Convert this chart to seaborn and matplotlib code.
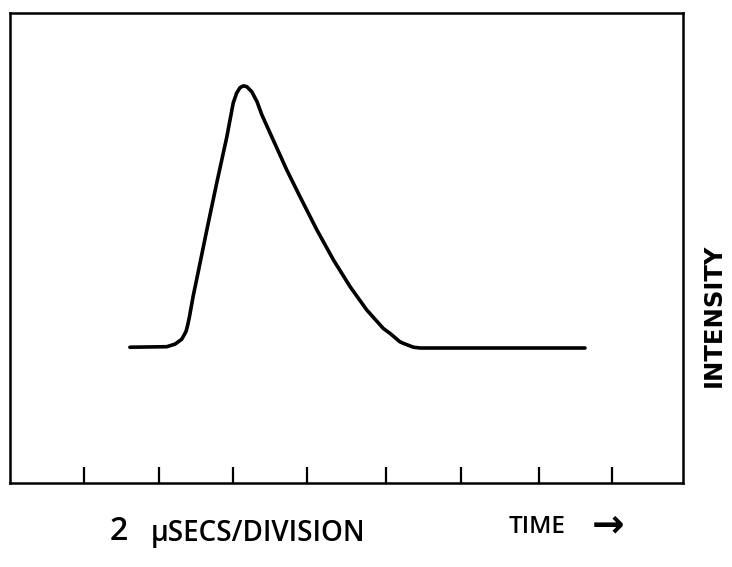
import matplotlib
matplotlib.use("Agg")
import matplotlib.pyplot as plt
import seaborn as sns
import pandas as pd

# Pulse trace: time in microseconds, intensity in arbitrary units (peak = 1)
time_us = [3.18, 4.16, 4.38, 4.55, 4.60, 4.67, 4.71, 4.76, 4.86, 4.95, 5.22,
           5.48, 5.75, 5.92, 6.01, 6.10, 6.19, 6.28, 6.41, 6.55, 6.68, 6.98,
           7.34, 7.69, 8.14, 8.58, 9.02, 9.46, 9.90, 10.08, 10.34, 10.43,
           10.70, 10.88, 11.94, 15.25]
intensity = [0.003, 0.005, 0.015, 0.033, 0.045, 0.064, 0.086, 0.12, 0.200,
             0.262, 0.452, 0.630, 0.808, 0.938, 0.976, 0.997, 1.004, 1.001,
             0.982, 0.944, 0.893, 0.797, 0.682, 0.580, 0.452, 0.337, 0.235,
             0.146, 0.075, 0.056, 0.024, 0.018, 0.003, 0.0, 0.0, 0.0]
# Graticule divisions (2 us each)
tick_times = [1.96, 3.95, 5.92, 7.88, 9.97, 11.96, 14.03, 15.97]

df = pd.DataFrame({"time": time_us, "intensity": intensity})

sns.set_theme(style="white")
plt.rcParams["font.family"] = ["Open Sans", "DejaVu Sans"]

W, H = 732, 567
fig = plt.figure(figsize=(W / 100, H / 100), dpi=100)
ax = fig.add_axes([10 / W, 1 - 483 / H, (683 - 10) / W, (483 - 13) / H])

sns.lineplot(data=df, x="time", y="intensity", ax=ax, color="black",
             linewidth=2.6, sort=False, solid_capstyle="round",
             solid_joinstyle="round")

ax.set_xlim(0, 17.85)
ax.set_ylim(-0.517, 1.283)
ax.set_xticks(tick_times)
ax.set_xticklabels([])
ax.set_yticks([])
ax.tick_params(axis="x", direction="in", length=11.5, width=1.6,
               color="black", bottom=True)
ax.set_xlabel("")
ax.set_ylabel("")
for s in ax.spines.values():
    s.set_visible(True)
    s.set_color("black")
    s.set_linewidth(1.8)


def px(x, y):
    return x / W, 1 - y / H


fig.text(*px(110, 531), "2", fontsize=23, ha="left", va="center",
         color="black", fontweight="semibold")
fig.text(*px(151, 533), "μSECS/DIVISION", fontsize=20, ha="left",
         va="center", color="black", fontweight="semibold")
fig.text(*px(509, 527), "TIME", fontsize=17.5, ha="left", va="center",
         color="black", fontweight="semibold")
fig.text(*px(608, 525), "→", fontsize=28, ha="center", va="center",
         color="black", fontweight="bold", family="DejaVu Sans")
fig.text(*px(714, 315), "INTENSITY", fontsize=17.5, ha="center",
         va="center", rotation=90, color="black", fontweight="bold",
         family="DejaVu Sans")

fig.savefig("out.png", dpi=100, facecolor="white")
